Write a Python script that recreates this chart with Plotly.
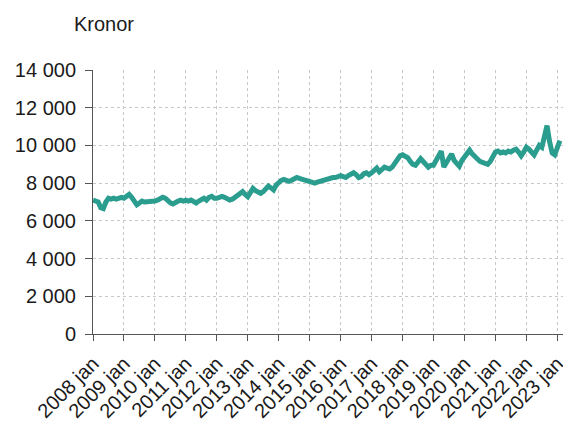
import plotly.graph_objects as go

years = list(range(2008, 2024))
month_names = ["jan", "feb", "mar", "apr", "maj", "jun", "jul", "aug", "sep", "okt", "nov", "dec"]

v2008 = [7100, 7050, 7000, 6700, 6650, 7000, 7200, 7150, 7200, 7150, 7200, 7250]
v2009 = [7200, 7300, 7400, 7250, 7050, 6850, 6950, 7050, 7000, 7000, 7050, 7000]
v2010 = [7050, 7100, 7150, 7250, 7200, 7050, 6950, 6900, 7000, 7050, 7100, 7050]
v2011 = [7100, 7050, 7100, 7000, 6950, 7050, 7150, 7200, 7100, 7250, 7300, 7200]
v2012 = [7200, 7250, 7300, 7250, 7200, 7100, 7150, 7250, 7300, 7400, 7550, 7400]
v2013 = [7280, 7500, 7720, 7600, 7500, 7460, 7550, 7700, 7850, 7750, 7640, 7900]
v2014 = [8050, 8150, 8200, 8150, 8100, 8150, 8200, 8300, 8250, 8200, 8150, 8100]
v2015 = [8100, 8050, 8000, 8050, 8100, 8150, 8200, 8200, 8250, 8300, 8300, 8350]
v2016 = [8400, 8350, 8300, 8400, 8500, 8550, 8450, 8300, 8350, 8500, 8550, 8450]
v2017 = [8550, 8700, 8800, 8600, 8700, 8850, 8800, 8750, 8850, 9050, 9300, 9450]
v2018 = [9500, 9450, 9350, 9150, 9000, 8950, 9150, 9300, 9150, 8950, 8850, 8950]
v2019 = [8950, 9200, 9500, 9700, 8850, 9100, 9400, 9550, 9200, 9000, 8900, 9200]
v2020 = [9400, 9600, 9750, 9550, 9400, 9300, 9150, 9100, 9050, 9000, 9150, 9400]
v2021 = [9650, 9700, 9600, 9650, 9600, 9700, 9650, 9750, 9800, 9650, 9450, 9650]
v2022 = [9900, 9800, 9600, 9500, 9750, 10000, 9900, 10400, 11050, 10200, 9600, 9500]
v2023 = [9900, 10250]

values = (v2008 + v2009 + v2010 + v2011 + v2012 + v2013 + v2014 + v2015
          + v2016 + v2017 + v2018 + v2019 + v2020 + v2021 + v2022 + v2023)
months = [f"{y} {m}" for y in years for m in month_names][:len(values)]
tick_labels = [f"{y} jan" for y in years]

font_family = "Liberation Sans, Arial, sans-serif"
txt = "#1a1a1a"
axis_col = "#555555"
grid_col = "#c8c8c8"

fig = go.Figure()
fig.add_trace(go.Scatter(
    x=months, y=values, mode="lines",
    line=dict(color="#2a9d8f", width=5),
    hoverinfo="skip", showlegend=False,
))

fig.update_layout(
    width=563, height=423,
    margin=dict(l=93, r=0, t=70, b=89),
    paper_bgcolor="white", plot_bgcolor="white",
    separators=", ",
    font=dict(family=font_family, size=20, color=txt),
    xaxis=dict(
        type="category",
        categoryorder="array", categoryarray=months,
        tickmode="array", tickvals=tick_labels, ticktext=tick_labels,
        tickangle=-45,
        range=[0, 182.2],
        automargin=False,
        ticks="outside", ticklen=6, tickcolor=axis_col, tickwidth=1,
        ticklabelstandoff=3,
        showline=True, linecolor=axis_col, linewidth=1,
        showgrid=True, gridcolor=grid_col, griddash="dot", gridwidth=1,
        tickfont=dict(size=20, color=txt),
        zeroline=False,
    ),
    yaxis=dict(
        range=[0, 14000], dtick=2000, tickformat=",",
        automargin=False,
        ticks="outside", ticklen=7, tickcolor=axis_col, tickwidth=1,
        ticklabelstandoff=5,
        showline=True, linecolor=axis_col, linewidth=1,
        showgrid=True, gridcolor=grid_col, griddash="dot", gridwidth=1,
        tickfont=dict(size=20, color=txt),
        zeroline=False,
    ),
    annotations=[dict(
        text="Kronor", xref="paper", yref="paper",
        x=-21 / 470, y=(334 - 24) / 264, xanchor="left", yanchor="middle",
        showarrow=False, font=dict(size=20, color=txt, family=font_family),
    )],
)

fig.write_html(
    "out.html",
    config={"displayModeBar": False},
    post_script="document.body.style.margin='0';document.body.style.overflow='hidden';",
)
